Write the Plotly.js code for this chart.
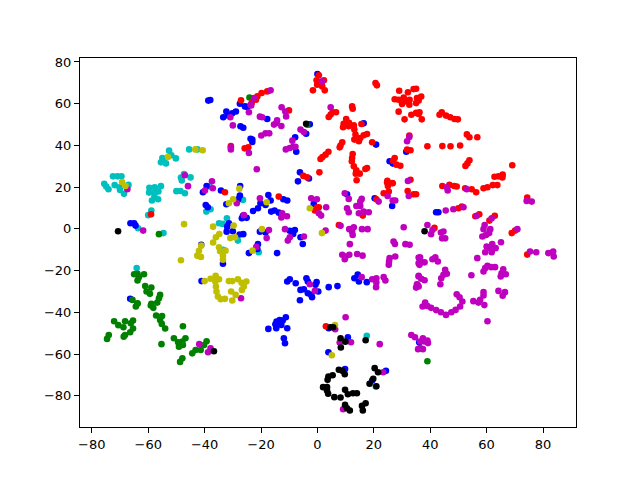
<!DOCTYPE html>
<html><head><meta charset="utf-8">
<script src="https://cdn.plot.ly/plotly-3.0.1.min.js"></script>
<style>html,body{margin:0;padding:0;background:#fff}</style></head>
<body><div id="chart" style="width:640px;height:480px"></div>
<script>
const cyan=[[-52.6,37.5],[-51.8,35.3],[-50.2,33.8],[-55,34],[-55.5,31.9],[-53.7,31.4],[-54.6,32.7],[-45.5,38.1],[-42.6,38.1],[-72.5,25.2],[-70.9,25.2],[-69.5,25.2],[-48.4,24.6],[-47.3,26.3],[-45,24.7],[-75.6,21.6],[-74.9,20.3],[-74.1,19],[-71.9,21],[-70.2,20],[-70,18.7],[-68.6,16.8],[-67,21.1],[-59.6,19.7],[-57.7,20],[-55.5,20.5],[-59.7,17.4],[-57.7,17.4],[-56.4,17.9],[-57.8,15.5],[-58.7,13.6],[-56.5,14.2],[-50,18.1],[-48.6,18.2],[-47,17.1],[-48.1,23.2],[-38.3,20.3],[-37.9,9.4],[-39.4,8.3],[-26.4,13.9],[-32.1,5.1],[-34.9,2.7],[-33.6,2.4],[-28.2,-5.6],[-33.4,-10],[-60,6.6],[-58.9,8.8],[-63.6,0.3],[-54.6,-2],[-64.1,-18.7],[-20.8,-11.2],[17.5,-51.2],[20.7,-75.5]];
const blue=[[-38.7,61.5],[-38,61.8],[-32.3,56.3],[-28.9,56.3],[-30.2,55.4],[-31.7,54.4],[-33.4,53.5],[-27.3,49.2],[-26.3,48.5],[-27.5,60],[-25.7,58.7],[-24.9,58.4],[-23.7,43.2],[-39.3,20.6],[-40.6,17.6],[-34.2,18.4],[-39.6,11.5],[-38.9,10.4],[-27.4,20.6],[-27.5,16],[-28.1,14.2],[-32.3,11.8],[-26.4,6.3],[-26.8,5.1],[-25.1,5.3],[-32,1.1],[-31.4,2.7],[-32.2,-1.3],[-30,-1.1],[-27.6,-2.7],[-26.3,-2.5],[-33.5,-16.7],[-24.3,-11.6],[-41.2,-7.6],[-66.3,2.7],[-65,2.7],[-64.5,1.6],[-41.1,-25],[-66.4,-33.5],[-17.8,52.7],[-2.7,50.1],[-4,45.6],[-7.9,43.9],[-7.5,37],[-23.1,42.8],[-23.1,41.7],[16.4,50.6],[20.8,40.4],[-6.2,27.1],[-3,24.2],[-6.9,22.8],[25.6,32.4],[26.8,31.3],[31.5,37],[0,74.2],[-17.4,16.2],[-16.6,13.6],[-18.4,11.5],[-21.1,9.9],[-22.8,8.6],[-20.2,12.3],[-16.4,8.3],[-15.2,8.8],[-13.7,7.8],[-12.1,14.2],[-10.7,13.6],[-1.3,12],[-20.4,-1.3],[-18.4,-1.7],[-9.8,-0.9],[-8,-0.5],[-8.6,-2.4],[-6,-4],[-5.2,-7.2],[-21.1,-7.3],[-21.3,-9.6],[-14.3,-11.6],[20.3,14.7],[26.5,11],[10.5,16.6],[-10.7,-25.2],[-9.8,-24.1],[-7.7,-26],[-6,-29.2],[-4.8,-28.9],[-3.9,-23.6],[-3.4,-25.2],[-0.3,-25.5],[-0.7,-26.8],[-3.4,-30.8],[-1.9,-32.7],[0.3,-30],[-6.2,-34.2],[4,-27.9],[7.1,-27.4],[14.3,-21.9],[13.1,-23.6],[14.7,-25.2],[17.5,-25.5],[-2.2,-31.6],[42.9,8],[42.1,8],[-11.2,-42.3],[-12.3,-43.9],[-13.4,-43.6],[-14.5,-44.4],[-14.9,-45.7],[-14.6,-47.6],[-12.8,-46],[-10.7,-47.6],[-17.4,-47.9],[-11.9,-52.4],[-11.5,-54.8],[4,-47.6],[10.8,-51.9],[3.9,-59.1],[9.8,-67.1],[24.3,-68],[19.4,-72.6],[36.1,-54.3]];
const green=[[-24.1,63],[-65,-21.7],[-63.8,-21.5],[-61.5,-21.7],[-63.3,-23.1],[-63.8,-24.7],[-61.1,-27.4],[-58.9,-28.1],[-60.6,-30],[-59.4,-31.1],[-55.8,-31.6],[-56.2,-33.2],[-56.8,-35.3],[-58.9,-35.9],[-63.8,-35.6],[-65.6,-34],[-56.2,-2.5],[-63.8,-35.9],[-64.4,-37.2],[-59.1,-36.7],[-58.2,-37.8],[-57.2,-41.5],[-55.1,-41.7],[-55.8,-43.6],[-55.2,-45.5],[-54,-47.7],[-47.7,-46.6],[-72.1,-44.2],[-70.6,-46.1],[-68.8,-47.1],[-68.2,-44.2],[-65.4,-43.9],[-66.2,-45.2],[-65.4,-47.7],[-66.4,-49.5],[-68.2,-50.8],[-68.7,-51.6],[-74,-50.8],[-74.6,-52.7],[-55.3,-55.2],[-50.9,-52.4],[-46.8,-52.4],[-47.9,-54],[-49.4,-54.3],[-47.7,-55.6],[-49.1,-56.4],[-43.2,-58],[-44.4,-59.6],[-47.9,-62],[-48.7,-63.7],[-39.3,-53.8],[-40.2,-55.6],[-41.4,-58],[36.4,-57.1],[39,-63.4],[-3.6,49.9]];
const red=[[-27.1,61.6],[-30.7,39.7],[-25.8,38.6],[-24.5,39.1],[-32.8,17.6],[-59,7],[0.5,73.6],[-0.3,71.2],[2.3,71.2],[-0.1,69.1],[1.7,68.3],[2.6,66.4],[-1.6,66.4],[20.6,69.9],[21.1,68.8],[-21.3,63.5],[-19.8,65.1],[-17.8,65.9],[-23.3,60.3],[-21.8,61.9],[-10.1,56.8],[12.3,58.7],[12.5,57.6],[6.6,55.9],[5.4,55.9],[4.7,54.8],[4,53.6],[10.2,52.7],[9.3,50.4],[11.2,50.8],[9.1,48.7],[11.1,49.2],[12.9,49.6],[15.6,50.3],[13.1,47.6],[13.5,45.2],[13.1,42.8],[14.7,42],[17.6,45.5],[16.4,44.9],[15.2,43.6],[19.4,41.5],[8.8,41.5],[8.2,40],[7.9,39.1],[3.9,37],[2.9,35.6],[1.8,34.5],[1.1,33.5],[0.7,27.1],[12.5,35.9],[12.3,34],[12.2,32.4],[12.9,30],[13.8,28.1],[13.6,26.5],[15,26.5],[17,28.7],[17.6,29.2],[13.9,23.3],[-5,25.4],[-3.6,24.7],[24.8,23.1],[26.5,22],[27.4,34],[26.8,32.7],[28,30.8],[29.4,30.3],[33,23.6],[31.8,38],[33,37.7],[29,66.2],[32.1,65.5],[34.1,67],[35,67.2],[27.4,62.1],[28.8,61.9],[30.6,63],[30.9,61.1],[30,59.9],[32.7,61.9],[32.6,59.5],[35.3,62.7],[35,60.3],[28.8,56.2],[33.3,54.7],[35,55.6],[35.9,55.1],[30.9,52.5],[32.6,44.8],[36.8,63.4],[35.9,61.5],[36.2,55.9],[37,52.5],[43.3,54.7],[44.1,55.9],[45.6,54.3],[47.1,53.5],[48.6,52.7],[49.8,52.5],[53,45.3],[53.9,43.9],[56.7,43.9],[39,39.6],[44.3,39.7],[47.2,39.6],[50.6,40],[53.9,32.9],[53.2,31.4],[52.5,30.2],[69.1,30.5],[62.8,25],[64.2,25.2],[65.7,26],[65.6,24.7],[24.7,22.2],[26.7,21.9],[25,20.6],[25.3,17.9],[23.5,17.1],[32,18.2],[34.1,16.6],[35,16.6],[-13.7,15.5],[-0.1,10.2],[0.5,10.4],[-0.9,8.8],[16.1,6.4],[20.9,14.2],[7.6,1.9],[44.3,20.6],[46.8,21.1],[48.5,20.6],[49.4,20.3],[52.4,19.5],[54.7,19],[56.3,17.6],[58.9,19.5],[60.3,20],[62.2,21],[63.8,21],[50,9.9],[51.2,10.7],[57.4,7],[56,6.1],[61,4],[62.9,6.3],[68.9,-2],[70.1,-0.8],[74.4,15],[74.4,-12.3],[41.5,0.5],[3,-46.6]];
const magenta=[[-30.9,53.5],[-30,49.6],[-30.7,39.1],[-30.7,38.1],[-24.3,55.9],[-23.7,59.5],[-24.3,36.4],[-47,25.7],[-37.4,22.8],[-67.4,19],[-45.9,20.5],[-39.9,18.4],[-37.1,19.5],[-28.6,12.3],[-26.1,6.6],[-61.8,-0.8],[-27.1,-33.2],[-41.9,-55.2],[-37.9,-57.2],[-38.8,-59.1],[1.6,70.7],[-16.6,66.4],[-22.5,62.7],[-23.5,59.2],[-12.7,58.3],[-11.4,56.3],[-11.1,53.9],[-20.4,53.8],[-19.6,53.5],[-14.3,52],[-15.4,50],[-12.8,49.3],[-14.5,50.8],[-6,47.6],[-4.8,46.4],[-19.9,44.8],[-18.4,45.8],[-17.1,45.8],[-8.9,42.3],[-8.6,39.4],[-11.2,38.1],[-9.8,38.8],[-7.8,39.4],[4.7,58.3],[32.6,44],[31.8,42],[-21.5,28.6],[-20.4,14.7],[-12.5,7.5],[-12.8,5.5],[-10.8,6.1],[-2.2,14.7],[-0.2,14.2],[3.1,10.4],[0.5,7.5],[1.3,6.4],[9.7,17.1],[11.1,14.4],[15.7,14.4],[15.2,13.1],[13.8,11],[15.2,11],[10.5,9.9],[11.1,8],[14.7,7.5],[16.4,8.3],[18.2,8],[21.7,13.1],[24.9,15.8],[26.7,13.6],[27.6,13.6],[32.4,15.8],[32.1,23],[8.2,1.5],[11.3,-0.1],[12.9,0.8],[12.3,-1.3],[12.5,-2.9],[15.8,-0.1],[17.8,-0.1],[30.6,0.8],[2.9,-0.8],[11.5,-7.3],[27,-6],[27.5,-7.2],[31.2,-7.3],[32.7,-7.6],[8.8,-12.4],[10,-13.2],[11.3,-12.4],[14.1,-12],[16,-12.8],[9.7,-14.5],[27.6,-13.2],[25.6,-14],[25.4,-15.6],[25.3,-17.2],[35.9,-13.7],[35.9,-16.4],[-17.2,-0.5],[-18,-4.4],[-11.5,-0.1],[-9.8,-4],[-10.5,-5.6],[-4.8,-3.6],[-21.7,-8.6],[-2.7,-26.5],[-0.9,-29.7],[15.7,-23.1],[19.4,-24.1],[20.9,-23.6],[20.9,-25.7],[20.8,-27.9],[23.5,-23.1],[24.1,-24.7],[35.9,-22.8],[35.3,-26.5],[35.9,-27.6],[45.9,20],[46.2,18.4],[53,19],[45.5,8.8],[48.2,9.4],[51.8,10.4],[56.5,6.3],[61.8,5.1],[70.9,-0.1],[74.2,13.4],[76,13.1],[75.4,-10.8],[77.6,-11.2],[81.9,-11.6],[83.6,-10.8],[83.8,-13.2],[39,1.9],[40.8,-0.5],[40.3,-2.5],[43.8,-1.7],[44.7,-1.2],[44.2,-4.5],[45.3,-4.5],[59.3,1.9],[58.9,-0.1],[61.3,-0.1],[60.9,-2],[59.8,-2.9],[58.5,-3.6],[65.1,-6.4],[62,-7.3],[60,-8.4],[63.2,-9.2],[61.2,-9.2],[61.8,-11.2],[59.5,-11.2],[56.7,-14],[36.4,-13.6],[37,-16],[38,-16],[36.2,-17.2],[41.8,-13.6],[40.8,-14.5],[42.7,-15.6],[45.3,-19.6],[45.9,-21.5],[44.7,-22],[43.9,-23.6],[35.9,-22.5],[36.8,-23.9],[38,-24.6],[35.5,-26.8],[35,-28.1],[43.6,-26.5],[54.6,-22.2],[60.3,-17.7],[61.6,-18.3],[63,-18.3],[59.5,-18.8],[58.9,-20.4],[65.9,-19.3],[65.3,-21.2],[66.8,-21.7],[65,-22.8],[49.4,-31.3],[50.4,-32.7],[51.4,-34.8],[50.6,-37.2],[49,-38.8],[47.5,-39.9],[45.6,-41.2],[43.8,-39.9],[42.1,-38.9],[40.3,-37.8],[39,-36.9],[38.2,-35.3],[37.3,-37.2],[58.9,-30.3],[58.9,-31.9],[57.7,-34],[55.3,-34.6],[57.1,-35.3],[59.2,-36.5],[60.3,-44.2],[64.2,-29.7],[66.5,-30.3],[65.7,-32],[33.3,-50.8],[34.6,-51.9],[37.4,-52.4],[36.4,-53.9],[37.9,-53.9],[39,-53.5],[39.2,-54.7],[35.7,-57.6],[37.4,-57.6],[6.3,-48.1],[10,-42.3],[7.9,-54.4],[11.9,-54.3],[22.1,-55.2],[23.3,-68.7],[9.1,-86.4]];
const yellow=[[-53,34.5],[-43.3,38.1],[-40.7,37.7],[-69.3,22.5],[-68.1,20.6],[-31.4,12.3],[-29.9,14.2],[-27.7,19.3],[-47.3,2.3],[-37,1.1],[-29.7,1.6],[-34.8,-2.4],[-36,-4],[-37,-6.5],[-30.9,-4.4],[-29.2,-4],[-34.9,-8.8],[-34.5,-10.7],[-32.6,-10.4],[-33.5,-12.9],[-33.5,-14.8],[-41.2,-8],[-42,-10.5],[-42.6,-12.8],[-41.3,-13.4],[-48.4,-15],[-40,-25],[-37.9,-23.9],[-36.1,-22.5],[-34.9,-24.1],[-36.2,-25.2],[-36,-27.6],[-35.8,-30],[-35.3,-32.4],[-34.3,-33.7],[-32.8,-33.5],[-31.4,-25],[-30.2,-25],[-28.2,-24.1],[-26.9,-25.8],[-25.2,-25.2],[-26.1,-27.6],[-26.8,-29.2],[-30.6,-30],[-29,-31.6],[-30.2,-34.3],[-18,12.8],[-2.7,9.9],[-19.7,-0.1],[1.6,-2],[-23,-10.4],[6.2,-46.1],[5.1,-60.5]];
const black=[[-70.7,-1.1],[-4,50.4],[38,-1.1],[-36.7,-58.6],[4.6,-47.1],[5.6,-47.1],[8.2,-52.4],[9.9,-54],[8.3,-56.8],[17.1,-53.3],[20.3,-66.7],[21.5,-68.7],[19.8,-71.8],[18.5,-74.2],[20.9,-75.4],[7.6,-67.5],[8.8,-68],[9.7,-69.6],[5.4,-70.1],[3.9,-70.7],[3.6,-72.3],[2,-75.8],[3.4,-75.8],[3.4,-77.4],[3.8,-79],[9.8,-77.1],[10.8,-79.2],[12.6,-78.7],[14,-78.7],[6,-80.6],[8.2,-80.8],[9.8,-84.3],[10.5,-85.9],[11.5,-87],[17.1,-83.5],[15.8,-84.8],[16.1,-87]];
const series=[[cyan,'#00bfbf'],[blue,'#0000ff'],[green,'#008000'],[red,'#ff0000'],[magenta,'#bf00bf'],[yellow,'#bfbf00'],[black,'#000000']];
const traces=series.map(([pts,color])=>({type:'scatter',mode:'markers',x:pts.map(p=>p[0]),y:pts.map(p=>p[1]),marker:{size:6.6,color:color,line:{width:0}},hoverinfo:'skip'}));
const axis={showgrid:false,zeroline:false,showline:true,mirror:true,linecolor:'#000',linewidth:1,ticks:'outside',ticklen:5,tickwidth:1,tickcolor:'#000',dtick:20,tick0:0,tickfont:{family:'DejaVu Sans',size:13,color:'#000'}};
Plotly.newPlot('chart',traces,{width:640,height:480,showlegend:false,paper_bgcolor:'#fff',plot_bgcolor:'#fff',margin:{l:80,r:64,t:58,b:53,pad:0},
xaxis:Object.assign({},axis,{range:[-84.2,91.7]}),yaxis:Object.assign({},axis,{range:[-94.9,81.9]})},{displayModeBar:false,staticPlot:true});
</script></body></html>
